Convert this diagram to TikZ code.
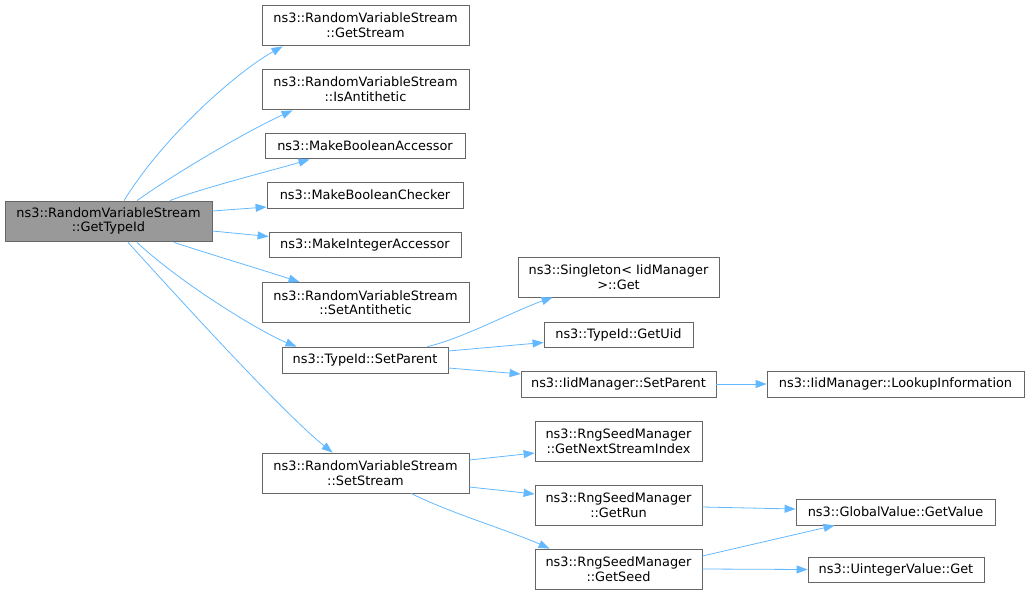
\documentclass[tikz,border=0pt]{standalone}
\usepackage{fontspec}
\setmainfont{DejaVu Sans}
\usetikzlibrary{arrows.meta,calc}
\definecolor{edgeblue}{HTML}{63B8FF}
\definecolor{boxborder}{HTML}{666666}
\definecolor{rootfill}{HTML}{999999}
\begin{document}
\begin{tikzpicture}[x=1pt,y=-1pt,
  box/.style={draw=boxborder,fill=white,line width=0.8pt,inner sep=0pt,align=center,
    font=\fontsize{12.9}{14.5}\selectfont},
  rootbox/.style={box,fill=rootfill},
  arr/.style={draw=edgeblue,line width=0.8pt,-{Triangle[length=11pt,width=8pt]}}]
\useasboundingbox (0,0) rectangle (1029,595);
% nodes
\node[rootbox,minimum width=207pt,minimum height=40pt] (root) at (108.5,221) {ns3::RandomVariableStream\\::GetTypeId};
\node[box,minimum width=207pt,minimum height=40pt] (gs) at (365.5,25) {ns3::RandomVariableStream\\::GetStream};
\node[box,minimum width=207pt,minimum height=40pt] (ia) at (365.5,89) {ns3::RandomVariableStream\\::IsAntithetic};
\node[box,minimum width=200pt,minimum height=25pt] (mba) at (365,145.5) {ns3::MakeBooleanAccessor};
\node[box,minimum width=196pt,minimum height=26pt] (mbc) at (365,195) {ns3::MakeBooleanChecker};
\node[box,minimum width=192pt,minimum height=25pt] (mia) at (365,244.5) {ns3::MakeIntegerAccessor};
\node[box,minimum width=207pt,minimum height=40pt] (sa) at (365.5,302.5) {ns3::RandomVariableStream\\::SetAntithetic};
\node[box,minimum width=166pt,minimum height=26pt] (tsp) at (365,360) {ns3::TypeId::SetParent};
\node[box,minimum width=207pt,minimum height=40pt] (ss) at (365.5,473) {ns3::RandomVariableStream\\::SetStream};
\node[box,minimum width=201pt,minimum height=40pt] (sg) at (618.5,277) {ns3::Singleton< IidManager\\ >::Get};
\node[box,minimum width=149pt,minimum height=25pt] (gu) at (618.5,334.5) {ns3::TypeId::GetUid};
\node[box,minimum width=195pt,minimum height=26pt] (isp) at (618.5,384) {ns3::IidManager::SetParent};
\node[box,minimum width=167pt,minimum height=40pt] (gnsi) at (618.5,441) {ns3::RngSeedManager\\::GetNextStreamIndex};
\node[box,minimum width=167pt,minimum height=40pt] (gr) at (618.5,505) {ns3::RngSeedManager\\::GetRun};
\node[box,minimum width=167pt,minimum height=40pt] (gse) at (618.5,569) {ns3::RngSeedManager\\::GetSeed};
\node[box,minimum width=257pt,minimum height=26pt] (li) at (895.5,384) {ns3::IidManager::LookupInformation};
\node[box,minimum width=199pt,minimum height=26pt] (gv) at (895.5,512) {ns3::GlobalValue::GetValue};
\node[box,minimum width=176pt,minimum height=25pt] (ug) at (896,569.5) {ns3::UintegerValue::Get};
% edges
\draw[arr] ($(root.north)+(15.5,0)$) .. controls +(40,-65) and +(-45,25) .. ($(gs.south west)+(21,1)$);
\draw[arr] ($(root.north)+(28.5,0)$) .. controls +(45,-32) and +(-40,18) .. ($(ia.south west)+(31,1)$);
\draw[arr] ($(root.north)+(61.5,0)$) .. controls +(30,-12) and +(-30,9) .. ($(mba.south west)+(45,1)$);
\draw[arr] ($(root.east)+(0,-10)$) -- ($(mbc.west)+(0,12)$);
\draw[arr] ($(root.east)+(0,10)$) -- ($(mia.west)+(0,-8)$);
\draw[arr] ($(root.south)+(65.5,1)$) .. controls +(30,10) and +(-30,-10) .. ($(sa.north west)+(38,0)$);
\draw[arr] ($(root.south)+(28.5,1)$) .. controls +(45,42) and +(-35,-14) .. ($(tsp.north west)+(15,0)$);
\draw[arr] ($(root.south)+(19.5,1)$) .. controls +(50,55) and +(-50,-40) .. ($(ss.north west)+(71,0)$);
\draw[arr] ($(tsp.north east)+(-21,0)$) .. controls +(35,-8) and +(-40,14) .. ($(sg.south west)+(35,0)$);
\draw[arr] ($(tsp.east)+(0,-9)$) -- ($(gu.west)+(0,8)$);
\draw[arr] ($(tsp.east)+(0,8)$) -- ($(isp.west)+(0,-10)$);
\draw[arr] (isp.east) -- (li.west);
\draw[arr] ($(ss.east)+(0,-13)$) -- ($(gnsi.west)+(0,12)$);
\draw[arr] ($(ss.east)+(0,14)$) -- ($(gr.west)+(0,-11)$);
\draw[arr] ($(ss.south)+(45.5,0)$) .. controls +(40,20) and +(-40,-18) .. ($(gse.north west)+(15,0)$);
\draw[arr] ($(gr.east)+(0,2)$) -- ($(gv.west)+(0,-3)$);
\draw[arr] ($(gse.east)+(0,-13)$) -- ($(gv.south west)+(39,0)$);
\draw[arr] (gse.east) -- (ug.west);
\end{tikzpicture}
\end{document}
